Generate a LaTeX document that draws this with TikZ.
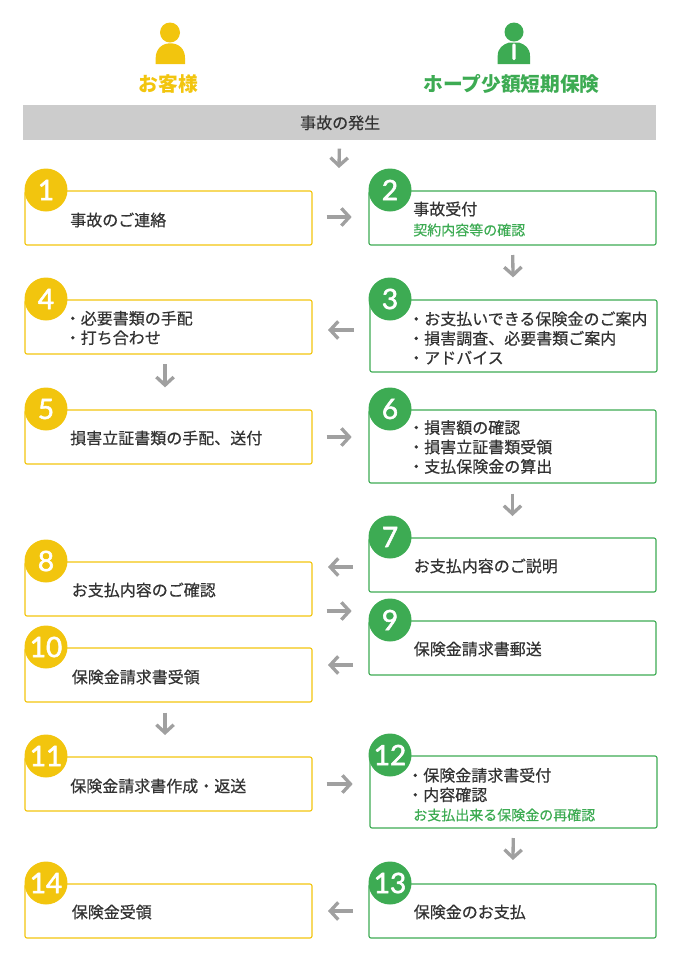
\documentclass[tikz,border=0pt]{standalone}
\usepackage{fontspec}
\setmainfont{Noto Sans CJK JP}
\newfontfamily\txtfont{Noto Sans CJK JP}[FakeBold=0.5]
\newfontfamily\numfont{Lato}[FakeBold=2]
\usetikzlibrary{arrows.meta}
\definecolor{CustYellow}{RGB}{242,197,14}
\definecolor{HopeGreen}{RGB}{61,171,83}
\definecolor{BarGray}{RGB}{204,204,204}
\definecolor{ArrowGray}{RGB}{160,160,160}
\definecolor{TextGray}{RGB}{51,51,51}
\tikzset{
  box/.style={draw, line width=.85pt, rounded corners=1.5pt, outer sep=0pt, inner sep=0pt,
    anchor=north west, minimum width=215.25pt, minimum height=40.5pt},
  ybox/.style={box, draw=CustYellow},
  gbox/.style={box, draw=HopeGreen},
  badge/.style={circle, minimum size=32.25pt, inner sep=0pt, text=white,
    font=\numfont\fontsize{21}{21}\selectfont},
  ybadge/.style={badge, fill=CustYellow},
  gbadge/.style={badge, fill=HopeGreen},
  txt/.style={anchor=west, inner sep=0pt, align=left, text=TextGray,
    font=\txtfont\fontsize{12}{14.6}\selectfont},
  note/.style={anchor=west, inner sep=0pt, text=HopeGreen,
    font=\txtfont\fontsize{10.5}{12}\selectfont},
  head/.style={inner sep=0pt, font=\bfseries\fontsize{14.8}{18}\selectfont},
  arr/.style={draw=ArrowGray, line width=2.5pt, -{Straight Barb[length=6pt,width=13pt]}}
}
\begin{document}
\begin{tikzpicture}[x=.75pt,y=-.75pt]
  \useasboundingbox (0,0) rectangle (683,972);
  % customer icon
  \fill[CustYellow] (170,32.5) circle [radius=10];
  \fill[CustYellow] (155.7,64) -- (155.7,58) .. controls (155.7,49) and (162,43.3) .. (170.3,43.3)
    .. controls (179,43.3) and (185,49) .. (185,58) -- (185,64) -- cycle;
  % staff icon
  \fill[HopeGreen] (514,32) circle [radius=9.5];
  \fill[HopeGreen] (497.7,64) -- (497.7,56) .. controls (497.7,48) and (503,44.5) .. (509,42.5)
    -- (519,42.5) .. controls (525,44.5) and (530,48) .. (530,56) -- (530,64) -- cycle;
  \fill[white, rounded corners=1pt] (512.4,43.5) rectangle (515.6,60);
  % headings
  \node[head, text=CustYellow] (cust) at (168.5,84) {お客様};
  \node[head, text=HopeGreen] (hope) at (511.5,84) {ホープ少額短期保険};
  % top bar
  \node[fill=BarGray, minimum width=474.75pt, minimum height=26.25pt, inner sep=0pt,
    text=TextGray, font=\txtfont\fontsize{12}{14}\selectfont] (bar) at (339.5,122.8) {\hspace{1pt}事故の発生};
  \coordinate (c0) at (339,168);
  % boxes, customer side
  \node[ybox] (b1) at (25,191) {};
  \node[ybox] (b4) at (25,300) {};
  \node[ybox] (b5) at (25,410) {};
  \node[ybox] (b8) at (25,562) {};
  \node[ybox] (b10) at (25,648) {};
  \node[ybox] (b11) at (25,757) {};
  \node[ybox] (b14) at (25,884) {};
  % boxes, insurer side
  \node[gbox] (b2) at (369,191) {};
  \node[gbox, minimum height=54pt] (b3) at (370,300) {};
  \node[gbox, minimum height=54.75pt] (b6) at (369,410) {};
  \node[gbox] (b7) at (369,538) {};
  \node[gbox] (b9) at (369,621) {};
  \node[gbox, minimum height=54pt] (b12) at (370,756) {};
  \node[gbox] (b13) at (369,884) {};
  % numbers
  \node[ybadge] (n1) at (46,190) {1};
  \node[gbadge] (n2) at (390,190) {2};
  \node[gbadge] (n3) at (390,299) {3};
  \node[ybadge] (n4) at (46,299) {4};
  \node[ybadge] (n5) at (46,409) {5};
  \node[gbadge] (n6) at (390,409) {6};
  \node[gbadge] (n7) at (390,537) {7};
  \node[ybadge] (n8) at (46,561) {8};
  \node[gbadge] (n9) at (390,620) {9};
  \node[ybadge] (n10) at (46,647) {10};
  \node[ybadge] (n11) at (46,756) {11};
  \node[gbadge] (n12) at (390,755) {12};
  \node[gbadge] (n13) at (390,883) {13};
  \node[ybadge] (n14) at (46,883) {14};
  % texts
  \node[txt] (t1) at (70,220) {事故のご連絡};
  \node[txt] (t2) at (413,209) {事故受付};
  \node[note] (s2) at (413,230) {契約内容等の確認};
  \node[txt] (t3) at (408,338) {・お支払いできる保険金のご案内\\・損害調査、必要書類ご案内\\・アドバイス};
  \node[txt] (t4) at (64.5,328) {・必要書類の手配\\・打ち合わせ};
  \node[txt] (t5) at (70,438) {損害立証書類の手配、送付};
  \node[txt] (t6) at (408,447) {・損害額の確認\\・損害立証書類受領\\・支払保険金の算出};
  \node[txt] (t7) at (413.5,566) {お支払内容のご説明};
  \node[txt] (t8) at (71.5,590) {お支払内容のご確認};
  \node[txt] (t9) at (413.5,649) {保険金請求書郵送};
  \node[txt] (t10) at (71.5,677) {保険金請求書受領};
  \node[txt] (t11) at (70,786) {保険金請求書作成・返送};
  \node[txt] (t12) at (407,785) {・保険金請求書受付\\・内容確認};
  \node[note] (s12) at (413,815) {お支払出来る保険金の再確認};
  \node[txt] (t13) at (413.5,912) {保険金のお支払};
  \node[txt] (t14) at (71.5,912) {保険金受領};
  % arrows
  \draw[arr, shorten <=6pt] (bar.south) -- (c0);
  \draw[arr, shorten <=11pt, shorten >=13pt] (b1.east |- 0,217) -- (b2.west |- 0,217);
  \draw[arr, shorten <=7.5pt, shorten >=17pt] (b2.south) -- (b3.north);
  \draw[arr, shorten <=12pt, shorten >=12pt] (b3.west |- 0,330) -- (b4.east |- 0,330);
  \draw[arr, shorten <=7.5pt, shorten >=17pt] ([xshift=-2.6pt]b4.south) -- ([xshift=-2.6pt]b5.north);
  \draw[arr, shorten <=11pt, shorten >=13pt] (b5.east |- 0,437) -- (b6.west |- 0,437);
  \draw[arr, shorten <=8pt, shorten >=16.5pt] (b6.south) -- (b7.north);
  \draw[arr, shorten <=12pt, shorten >=12pt] (b7.west |- 0,567) -- (b8.east |- 0,567);
  \draw[arr, shorten <=11pt, shorten >=13pt] (b8.east |- 0,611) -- (b9.west |- 0,611);
  \draw[arr, shorten <=12pt, shorten >=12pt] (b9.west |- 0,665) -- (b10.east |- 0,665);
  \draw[arr, shorten <=8pt, shorten >=16.5pt] ([xshift=-2.6pt]b10.south) -- ([xshift=-2.6pt]b11.north);
  \draw[arr, shorten <=11pt, shorten >=13pt] (b11.east |- 0,784) -- (b12.west |- 0,784);
  \draw[arr, shorten <=7.5pt, shorten >=18pt] (b12.south) -- (b13.north);
  \draw[arr, shorten <=12pt, shorten >=12pt] (b13.west |- 0,911) -- (b14.east |- 0,911);
\end{tikzpicture}
\end{document}
